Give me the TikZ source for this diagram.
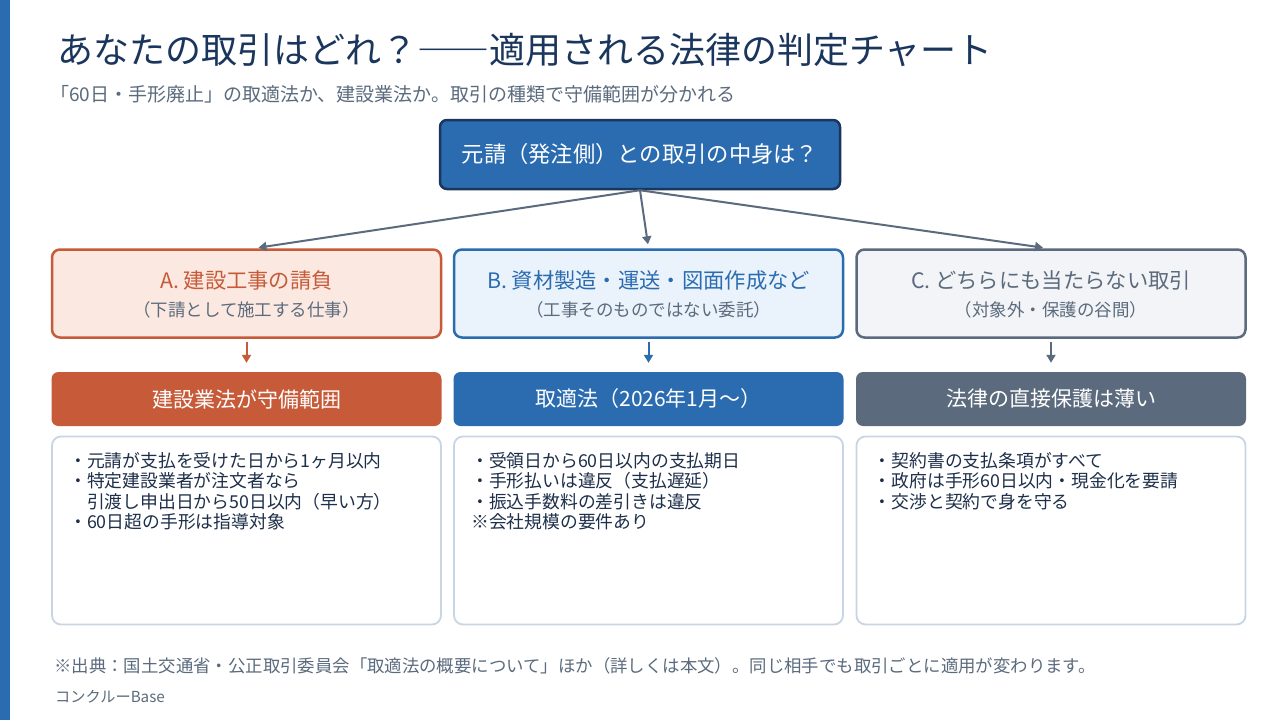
\documentclass[tikz,border=0pt]{standalone}
\usepackage{fontspec}
\setmainfont{Noto Sans CJK JP}
\usetikzlibrary{arrows.meta,calc}
\definecolor{cblue}{HTML}{2B6CB0}
\definecolor{cnavy}{HTML}{1A365D}
\definecolor{corange}{HTML}{C75B39}
\definecolor{cgray}{HTML}{5B6B7D}
\definecolor{fA}{HTML}{FBE9E1}
\definecolor{fB}{HTML}{EAF2FB}
\definecolor{fC}{HTML}{F2F4F7}
\definecolor{cline}{HTML}{C8D5E5}
\definecolor{ctext}{HTML}{1E2F4A}
\newcommand{\fs}[2]{\fontsize{#1}{#2}\selectfont}
\tikzset{
  topbox/.style={draw=cnavy, line width=2.5pt, fill=cblue, rounded corners=7pt,
    minimum width=400pt, minimum height=69pt, inner sep=0pt, text=white, font=\fs{22.3}{26}},
  catbox/.style={line width=2.5pt, rounded corners=8pt, minimum width=389pt, minimum height=88pt, inner sep=0pt},
  lawbox/.style={rounded corners=7pt, minimum width=390pt, minimum height=54pt, inner sep=0pt,
    text=white, font=\fs{21}{25}},
  detbox/.style={draw=cline, line width=1.8pt, fill=white, rounded corners=9pt,
    minimum width=389pt, minimum height=188pt, inner sep=0pt},
  cattitle/.style={inner sep=0pt, font=\fs{21.3}{25}},
  catsub/.style={inner sep=0pt, font=\fs{17.5}{20}, text=cgray},
  bodytxt/.style={inner sep=0pt, anchor=north west, align=left, text=ctext, font=\fs{17.8}{20.4}},
  mainarr/.style={draw=cgray, line width=2pt, -{Triangle[length=8pt,width=9pt]}, shorten >=4pt},
  subarr/.style={line width=2pt, -{Triangle[length=8pt,width=9pt]}, shorten <=3pt, shorten >=9pt},
}
\begin{document}
\begin{tikzpicture}[x=1pt,y=-1pt]
\useasboundingbox (0,0) rectangle (1280,720);
\fill[white] (0,0) rectangle (1280,720);
\fill[cblue] (0,0) rectangle (10,720);
% title
\node[anchor=west, inner sep=0pt, text=cnavy, font=\fs{36}{40}] (title) at (57,50) {あなたの取引はどれ？――適用される法律の判定チャート};
\node[anchor=west, inner sep=0pt, text=cgray, font=\fs{19}{22}] (subtitle) at (50,94) {「60日・手形廃止」の取適法か、建設業法か。取引の種類で守備範囲が分かれる};
% top
\node[topbox] (top) at (640,154.5) {元請（発注側）との取引の中身は？};
% categories
\node[catbox, draw=corange, fill=fA] (A) at (246.5,293.5) {};
\node[catbox, draw=cblue, fill=fB] (B) at (648.5,293.5) {};
\node[catbox, draw=cgray, fill=fC] (C) at (1051,293.5) {};
\node[cattitle, text=corange] (At) at (246.5,280) {A. 建設工事の請負};
\node[catsub] (As) at (246.5,310) {（下請として施工する仕事）};
\node[cattitle, text=cblue] (Bt) at (648.5,280) {B. 資材製造・運送・図面作成など};
\node[catsub] (Bs) at (648.5,310) {（工事そのものではない委託）};
\node[cattitle, text=cgray] (Ct) at (1051,280) {C. どちらにも当たらない取引};
\node[catsub] (Cs) at (1051,310) {（対象外・保護の谷間）};
% laws
\node[lawbox, fill=corange] (LA) at (246.5,399) {建設業法が守備範囲};
\node[lawbox, fill=cblue] (LB) at (648.5,399) {取適法（2026年1月～）};
\node[lawbox, fill=cgray] (LC) at (1051,399) {法律の直接保護は薄い};
% details
\node[detbox] (DA) at (246.5,530.5) {};
\node[detbox] (DB) at (648.5,530.5) {};
\node[detbox] (DC) at (1051,530.5) {};
\node[bodytxt] (TA) at ($(DA.west)+(18,-78.5)$) {・元請が支払を受けた日から1ヶ月以内\\・特定建設業者が注文者なら\\\phantom{・}引渡し申出日から50日以内（早い方）\\・60日超の手形は指導対象};
\node[bodytxt] (TB) at ($(DB.west)+(18,-78.5)$) {・受領日から60日以内の支払期日\\・手形払いは違反（支払遅延）\\・振込手数料の差引きは違反\\※会社規模の要件あり};
\node[bodytxt] (TC) at ($(DC.west)+(18,-78.5)$) {・契約書の支払条項がすべて\\・政府は手形60日以内・現金化を要請\\・交渉と契約で身を守る};
% arrows
\draw[mainarr] (top.south) -- ($(A.north)+(8,0)$);
\draw[mainarr] (top.south) -- (B.north);
\draw[mainarr] (top.south) -- ($(C.north)+(-4,0)$);
\draw[subarr, draw=corange] (A.south) -- (LA.north);
\draw[subarr, draw=cblue] (B.south) -- (LB.north);
\draw[subarr, draw=cgray] (C.south) -- (LC.north);
% footer
\node[anchor=west, inner sep=0pt, text=cgray, font=\fs{17.4}{20}] (source) at (54,666) {※出典：国土交通省・公正取引委員会「取適法の概要について」ほか（詳しくは本文）。同じ相手でも取引ごとに適用が変わります。};
\node[anchor=west, inner sep=0pt, text=cgray, font=\fs{15.2}{18}] (brand) at (55,697) {コンクルーBase};
\end{tikzpicture}
\end{document}
